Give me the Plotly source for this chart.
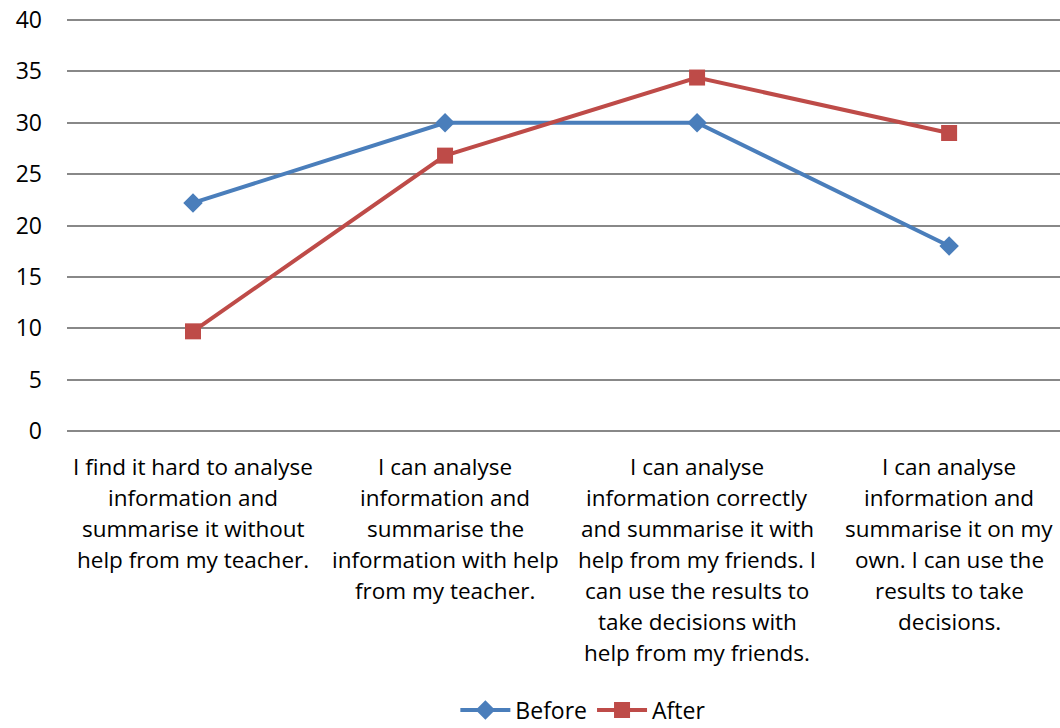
import plotly.graph_objects as go

categories = [
    "I find it hard to analyse<br>information and<br>summarise it without<br>help from my teacher.",
    "I can analyse<br>information and<br>summarise the<br>information with help<br>from my teacher.",
    "I can analyse<br>information correctly<br>and summarise it with<br>help from my friends. I<br>can use the results to<br>take decisions with<br>help from my friends.",
    "I can analyse<br>information and<br>summarise it on my<br>own. I can use the<br>results to take<br>decisions.",
]
before = [22.2, 30, 30, 18]
after = [9.7, 26.8, 34.4, 29]
y_ticks = [0, 5, 10, 15, 20, 25, 30, 35, 40]

FONT = "Open Sans, Carlito, Calibri, sans-serif"
W, H = 1060, 728
top_px, bot_px, left_px = 18, 433, 67
mt, mb, ml, mr = top_px, H - bot_px, left_px, 0
plot_h = H - mt - mb
pad = 2 * 40 / (bot_px - top_px - 4)  # keep gridlines at 0 and 40 visible

xs = list(range(len(categories)))

fig = go.Figure()
fig.add_trace(go.Scatter(
    x=xs, y=before, name="Before", mode="lines+markers",
    line=dict(color="#4A7EBB", width=4),
    marker=dict(symbol="diamond", size=15, color="#4A7EBB"),
))
fig.add_trace(go.Scatter(
    x=xs, y=after, name="After", mode="lines+markers",
    line=dict(color="#BE4B48", width=4),
    marker=dict(symbol="square", size=16, color="#BE4B48"),
))

annotations = []
for i, cat in enumerate(categories):
    for j, line in enumerate(cat.split("<br>")):
        py = 466 + 31 * j
        annotations.append(dict(
            x=i, xref="x", y=(H - mb - py) / plot_h, yref="paper",
            text=line, showarrow=False, xanchor="center", yanchor="middle",
            font=dict(family=FONT, size=22.5, color="#000000"),
        ))

fig.update_layout(
    width=W, height=H,
    margin=dict(l=ml, r=mr, t=mt, b=mb, autoexpand=False),
    paper_bgcolor="white", plot_bgcolor="white",
    font=dict(family=FONT, size=23, color="#000000"),
    xaxis=dict(range=[-0.5, 3.44], showticklabels=False, showgrid=False,
               zeroline=False, showline=False, fixedrange=True),
    yaxis=dict(range=[-pad, 40 + pad], tickvals=y_ticks, showgrid=True,
               gridcolor="#888888", gridwidth=1.5, zeroline=False,
               showline=False, ticks="", ticklabelstandoff=24,
               ticklabeloverflow="allow",
               tickfont=dict(family=FONT, size=23, color="#000000")),
    legend=dict(orientation="h", x=0.52, xanchor="center",
                yref="container", y=1 - 710 / H, yanchor="middle",
                font=dict(family=FONT, size=23), itemwidth=50,
                traceorder="normal"),
    annotations=annotations,
)

fig.write_html("out.html", config={"displayModeBar": False},
               post_script="document.body.style.margin='0';")
